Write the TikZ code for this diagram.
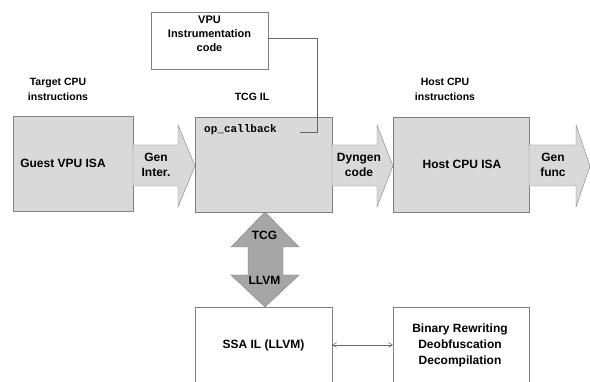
\documentclass[tikz,border=0pt]{standalone}
\usepackage{fontspec}
\setmainfont{Liberation Sans}
\setmonofont{Liberation Mono}
\usetikzlibrary{calc,arrows.meta}
\tikzset{
	isabox/.style={draw=black!50, line width=0.4pt, fill=black!15, minimum width=#1, minimum height=95pt, inner sep=0pt},
	plainbox/.style={draw=black!50, line width=0.4pt, fill=white, inner sep=0pt},
	boxtext/.style={align=center, inner sep=0pt, font=\fontsize{12}{16}\selectfont\bfseries},
	caption/.style={align=center, inner sep=0pt, font=\fontsize{10.5}{14.5}\selectfont\bfseries},
	blockarrow/.style={draw=black!50, line width=0.4pt, fill=black!15},
	arrowtext/.style={align=center, inner sep=0pt, font=\fontsize{12}{15}\selectfont\bfseries},
	wire/.style={draw=black!60, line width=0.5pt}
}

\begin{document}
\begin{tikzpicture}[x=1pt, y=-1pt]
		%%%%% START %%%%%
		\useasboundingbox (0, 0) rectangle (590, 382);
		\begin{scope}
		\clip (0, 0) rectangle (590, 382);
		
		\node[caption] (targetlbl) at (58, 89.5) {Target CPU\\instructions};
		\node[caption] (tcglbl) at (252, 97) {TCG IL};
		\node[caption] (hostlbl) at (445, 89.5) {Host CPU\\instructions};
		
		\node[plainbox, minimum width=117pt, minimum height=57pt] (vpu) at (209.5, 40.5) {};
		\node[boxtext, font=\fontsize{11}{14}\selectfont\bfseries] (vputxt) at (209.5, 34) {VPU\\Instrumentation\\code};
		
		\node[isabox=120pt] (guest) at (73, 163.5) {};
		\node[boxtext] (guesttxt) at (63, 163.5) {Guest VPU ISA};
		\node[isabox=137pt] (tcg) at (263.5, 164.5) {};
		\node[isabox=136pt] (host) at (461, 164.5) {};
		\node[boxtext] (hosttxt) at (462, 164.5) {Host CPU ISA};
		
		\node[anchor=west, inner sep=0pt, font=\fontsize{11}{12}\selectfont\ttfamily\bfseries] (cb) at (204, 130) {op\_callback};
		\coordinate (hook) at (300, 132);
		\draw[wire] (hook) -- ++(17, 0) |- ([yshift=2.5pt]vpu.east);
		
		% block arrows
		\draw[blockarrow] (133, 145) -- (178, 145) -- (178, 125) -- (195, 166) -- (178, 207) -- (178, 186) -- (133, 186) -- cycle;
		\node[arrowtext] (geninter) at (156, 164.5) {Gen\\Inter.};
		
		\draw[blockarrow] (332, 145) -- (377, 145) -- (377, 125) -- (393, 166) -- (377, 207) -- (377, 186) -- (332, 186) -- cycle;
		\node[arrowtext] (dyngen) at (359, 164.5) {Dyngen\\code};
		
		\draw[blockarrow] (529, 145) -- (576, 145) -- (576, 125) -- (590, 166) -- (576, 207) -- (576, 186) -- (529, 186) -- cycle;
		\node[arrowtext] (genfunc) at (553, 164.5) {Gen\\func};
		
		\draw[blockarrow, fill=black!35] (265, 212) -- (299, 247) -- (283, 247) -- (283, 275) -- (299, 275) -- (265, 307) -- (231, 275) -- (248, 275) -- (248, 247) -- (231, 247) -- cycle;
		\node[arrowtext] (tcgtxt) at (264.5, 235) {TCG};
		\node[arrowtext] (llvmtxt) at (264.5, 280) {LLVM};
		
		\node[plainbox, minimum width=137pt, minimum height=76pt] (ssa) at (263.5, 345) {};
		\node[boxtext] (ssatxt) at (263.5, 345.5) {SSA IL (LLVM)};
		\node[plainbox, minimum width=136pt, minimum height=76pt] (binary) at (461, 345) {};
		\node[boxtext] (binarytxt) at (460, 345) {Binary Rewriting\\Deobfuscation\\Decompilation};
		
		\draw[wire, {Straight Barb[length=4pt,width=5pt]}-{Straight Barb[length=4pt,width=5pt]}] (ssa.east) -- (binary.west);
		\end{scope}
		%%%%% END %%%%%
	\end{tikzpicture}
\end{document}
